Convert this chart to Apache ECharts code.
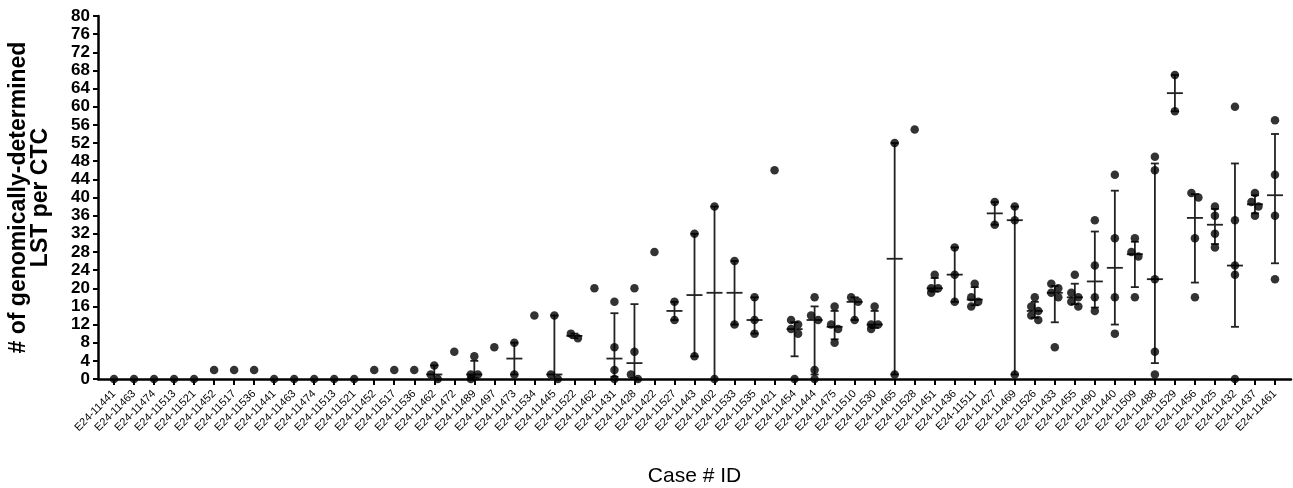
<!DOCTYPE html>
<html>
<head>
<meta charset="utf-8">
<script src="https://cdn.jsdelivr.net/npm/echarts@6/dist/echarts.min.js"></script>
<style>
    html, body { margin: 0; padding: 0; background: #fff; }
    #chart { width: 1293px; height: 488px; }
</style>
</head>
<body>
<div id="chart"></div>
<script>
// case IDs, left to right
const caseIds = [
    'E24-11441', 'E24-11463', 'E24-11474', 'E24-11513', 'E24-11521', 'E24-11452', 'E24-11517', 'E24-11536',
    'E24-11441', 'E24-11463', 'E24-11474', 'E24-11513', 'E24-11521', 'E24-11452', 'E24-11517', 'E24-11536',
    'E24-11462', 'E24-11472', 'E24-11489', 'E24-11497', 'E24-11473', 'E24-11534', 'E24-11445', 'E24-11522',
    'E24-11462', 'E24-11431', 'E24-11428', 'E24-11422', 'E24-11527', 'E24-11443', 'E24-11402', 'E24-11533',
    'E24-11535', 'E24-11421', 'E24-11454', 'E24-11444', 'E24-11475', 'E24-11510', 'E24-11530', 'E24-11465',
    'E24-11528', 'E24-11451', 'E24-11436', 'E24-11511', 'E24-11427', 'E24-11469', 'E24-11526', 'E24-11433',
    'E24-11455', 'E24-11490', 'E24-11440', 'E24-11509', 'E24-11488', 'E24-11529', 'E24-11456', 'E24-11425',
    'E24-11432', 'E24-11437', 'E24-11461'
]

// LST count of each CTC, one list per case
const lstPerCtc = [
    [0], [0], [0], [0], [0], [2], [2], [2],
    [0], [0], [0], [0], [0], [2], [2], [2],
    [3, 1, 0], [6], [5, 1, 1, 0], [7], [8, 1], [14], [14, 1, 0], [10, 9],
    [20], [17, 7, 2, 0], [20, 6, 1, 0], [28], [17, 13], [32, 5], [38, 0], [26, 12],
    [18, 13, 10], [46], [13, 12, 11, 10, 0], [18, 14, 13, 2, 0], [16, 12, 11, 8], [18, 17, 13], [16, 12, 12, 11], [52, 1],
    [55], [23, 20, 20, 19], [29, 23, 17], [21, 18, 17, 16], [39, 34], [38, 35, 1], [18, 16, 15, 14, 13], [21, 20, 19, 18, 7],
    [23, 19, 18, 17, 16], [35, 25, 18, 15], [45, 31, 18, 10], [31, 28, 27, 18], [49, 46, 22, 6, 1], [67, 59], [41, 40, 31, 18], [38, 36, 32, 29],
    [60, 35, 25, 23, 0], [41, 39, 38, 36], [57, 45, 36, 22]
]

const yTicks = { min: 0, max: 80, step: 4 }

// quartiles the way Prism does it: position p*(n+1), clamped to the data
function quantile(sorted, p) {
    const n = sorted.length
    let pos = Math.min(Math.max(p * (n + 1), 1), n)
    const lo = Math.floor(pos)
    if (lo >= n) return sorted[n - 1]
    return sorted[lo - 1] + (pos - lo) * (sorted[lo] - sorted[lo - 1])
}

const boxData = []
const dotData = []
const jitter = 0.175 // in category units (20px per case)
lstPerCtc.forEach((vals, i) => {
    const asc = vals.slice().sort((a, b) => a - b)
    if (asc.length > 1) {
        boxData.push([i, quantile(asc, 0.5), quantile(asc, 0.25), quantile(asc, 0.75)])
    }
    // spread dots that would sit on top of each other
    const desc = asc.slice().reverse()
    let k = 0
    desc.forEach((v, j) => {
        const near = (j > 0 && desc[j - 1] - v < 1.8) || (j < desc.length - 1 && v - desc[j + 1] < 1.8)
        if (j > 0 && desc[j - 1] - v < 1.8) k++
        else k = 0
        const off = near ? (k % 2 === 0 ? -jitter : jitter) : 0
        dotData.push([i + off, v])
    })
})

const myChart = echarts.init(document.getElementById('chart'))
const idx = caseIds.map((_, i) => i)

const option = {
    animation: false,
    grid: { left: 98, right: 2, top: 16, bottom: 109, containLabel: false, outerBoundsMode: 'none' },
    xAxis: {
        type: 'value',
        min: -0.8,
        max: 58.8,
        splitLine: { show: false },
        axisLine: { onZero: false, lineStyle: { color: '#000', width: 2.5 } },
        axisTick: { customValues: idx, length: 6, lineStyle: { color: '#000', width: 2 } },
        axisLabel: {
            customValues: idx,
            formatter: (v) => caseIds[v],
            rotate: 45,
            fontSize: 11,
            color: '#000',
            margin: 13,
            fontFamily: 'Liberation Sans, Arial, sans-serif'
        },
        name: 'Case # ID',
        nameLocation: 'middle',
        nameGap: 87,
        nameMoveOverlap: false,
        nameTextStyle: { fontSize: 21, color: '#000', fontFamily: 'Liberation Sans, Arial, sans-serif' }
    },
    yAxis: {
        type: 'value',
        min: yTicks.min,
        max: yTicks.max,
        interval: yTicks.step,
        splitLine: { show: false },
        axisLine: { show: true, onZero: false, lineStyle: { color: '#000', width: 2.5 } },
        axisTick: { show: true, length: 5, lineStyle: { color: '#000', width: 2 } },
        axisLabel: {
            fontSize: 17,
            fontWeight: 'bold',
            color: '#000',
            margin: 8,
            fontFamily: 'Liberation Sans, Arial, sans-serif'
        },
        name: '# of genomically-determined\nLST per CTC',
        nameLocation: 'middle',
        nameGap: 46,
        nameMoveOverlap: false,
        nameTextStyle: {
            fontSize: 23,
            fontWeight: 'bold',
            lineHeight: 22,
            color: '#000',
            fontFamily: 'Liberation Sans, Arial, sans-serif'
        }
    },
    series: [
        {
            // median with interquartile range
            type: 'custom',
            data: boxData,
            z: 2,
            renderItem: function (params, api) {
                const mid = api.coord([api.value(0), api.value(1)])
                const low = api.coord([api.value(0), api.value(2)])
                const high = api.coord([api.value(0), api.value(3)])
                const x = mid[0]
                const style = { stroke: '#222', lineWidth: 1.8 }
                return {
                    type: 'group',
                    children: [
                        { type: 'line', shape: { x1: x, y1: low[1], x2: x, y2: high[1] }, style: style },
                        { type: 'line', shape: { x1: x - 4, y1: low[1], x2: x + 4, y2: low[1] }, style: style },
                        { type: 'line', shape: { x1: x - 4, y1: high[1], x2: x + 4, y2: high[1] }, style: style },
                        { type: 'line', shape: { x1: x - 8, y1: mid[1], x2: x + 8, y2: mid[1] }, style: style }
                    ]
                }
            }
        },
        {
            type: 'scatter',
            data: dotData,
            symbol: 'circle',
            symbolSize: 8.5,
            z: 3,
            itemStyle: { color: '#000' }
        }
    ]
}
myChart.setOption(option)
window.addEventListener('resize', () => {
    myChart.resize()
})
</script>
</body>
</html>
